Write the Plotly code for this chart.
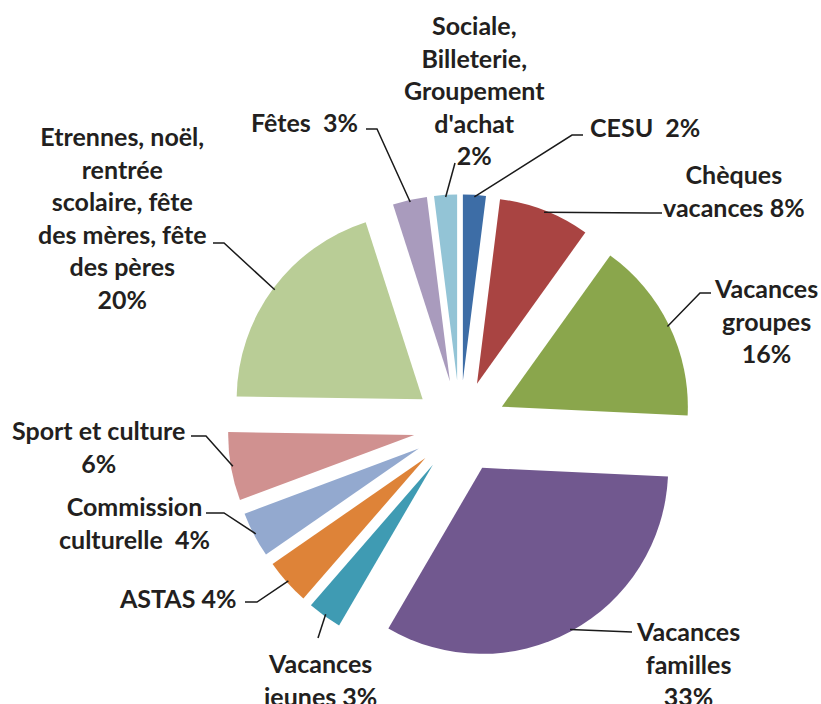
import math
import plotly.graph_objects as go

# ---- data ----
categories = ["CESU", "Chèques vacances", "Vacances groupes", "Vacances familles",
              "Vacances jeunes", "ASTAS", "Commission culturelle", "Sport et culture",
              "Etrennes, noël, rentrée scolaire, fête des mères, fête des pères",
              "Fêtes", "Sociale, Billeterie, Groupement d'achat"]
values = [2, 8, 16, 33, 3, 4, 4, 6, 20, 3, 2]
label_texts = ["CESU\u00a0 2%", "Chèques<br>vacances 8%", "Vacances<br>groupes<br>16%",
               "Vacances<br>familles<br>33%", "Vacances<br>jeunes 3%", "ASTAS 4%",
               "Commission<br>culturelle\u00a0 4%", "Sport et culture<br>6%",
               "Etrennes, noël,<br>rentrée<br>scolaire, fête<br>des mères, fête<br>des pères<br>20%",
               "Fêtes\u00a0 3%", "Sociale,<br>Billeterie,<br>Groupement<br>d'achat<br>2%"]
colors = ["#3D6DA6", "#A94442", "#8AA64C", "#71588F", "#3F9BB3", "#DE8338",
          "#93A9CF", "#D09190", "#B9CD96", "#A99BBD", "#93C4D6"]

# ---- layout geometry (pixels) ----
W, H = 821, 704
CX, CY, R, PULL = 460, 427, 186, 0.25
HALF = R * (1 + PULL)

def px(x):
    return x / W

def py(y):
    return 1 - y / H

# label placement: (x, y, xanchor)
label_pos = [(588, 127, "left"), (734, 190, "center"), (766, 320, "center"),
             (688, 663, "center"), (320, 679, "center"), (238, 598, "right"),
             (134, 522, "center"), (98, 446, "center"), (122, 218, "center"),
             (360, 122, "right"), (475, 90, "center")]
# leader paths after the slice point
leader_pts = [[(572, 135), (583, 135)], [(650, 213), (662, 213)], [(700, 293), (711, 293)],
              [(632, 632)], [(318, 638)], [(257, 602), (245, 602)],
              [(224, 513), (206, 513)], [(206, 436), (191, 436)], [(224, 243), (213, 243)],
              [(377, 129), (366, 129)], [(455, 163)]]

fig = go.Figure(go.Pie(
    labels=categories, values=values, sort=False, direction="clockwise", rotation=0,
    pull=PULL, marker=dict(colors=colors, line=dict(width=0)), textinfo="none",
    hoverinfo="label+percent", showlegend=False,
    domain=dict(x=[px(CX - HALF), px(CX + HALF)],
                y=[py(CY + HALF), py(CY - HALF)]),
))

total = sum(values)
cum = 0
shapes = []
annotations = []
font = dict(family="Lato", size=25, color="#231f20", weight="bold")
for i, v in enumerate(values):
    mid = math.radians((cum + v / 2) / total * 360)
    cum += v
    sx = CX + (HALF - 2) * math.sin(mid)
    sy = CY - (HALF - 2) * math.cos(mid)
    pts = [(sx, sy)] + leader_pts[i]
    path = "M " + " L ".join(f"{px(x):.5f},{py(y):.5f}" for x, y in pts)
    shapes.append(dict(type="path", xref="paper", yref="paper", path=path,
                       line=dict(color="#1a1a1a", width=1.5)))
    x, y, anc = label_pos[i]
    annotations.append(dict(x=px(x), y=py(y), xref="paper", yref="paper",
                            text=label_texts[i], showarrow=False, xanchor=anc,
                            yanchor="middle", align="center", font=font))

fig.update_layout(width=W, height=H, margin=dict(l=0, r=0, t=0, b=0),
                  paper_bgcolor="white", plot_bgcolor="white",
                  shapes=shapes, annotations=annotations)
fig.write_html("out.html", config={"displayModeBar": False},
               post_script="document.body.style.margin='0';")
